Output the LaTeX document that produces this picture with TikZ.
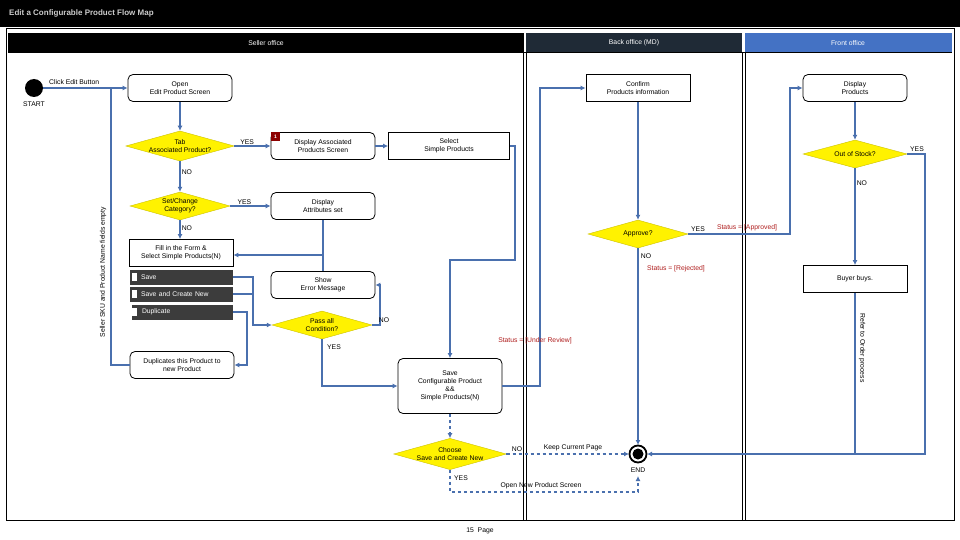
\documentclass[tikz,border=0pt]{standalone}
\usepackage{fontspec}
\setmainfont{Liberation Sans}
\usetikzlibrary{shapes.geometric,arrows.meta}
\definecolor{ln}{HTML}{4A70AE}
\definecolor{dia}{HTML}{FFF200}
\definecolor{st}{HTML}{B01E1E}
\definecolor{btn}{HTML}{3C3C3C}
\definecolor{bo}{HTML}{1F2A36}
\definecolor{fo}{HTML}{4472C4}
\tikzset{
 x=1pt,y=-1pt,
 every node/.style={font=\fontsize{6.8}{7.8}\selectfont,align=center,inner sep=1pt},
 rbox/.style={draw,rounded corners=5pt,thick,minimum width=104pt,minimum height=27pt},
 sbox/.style={draw,thick,minimum width=104pt,minimum height=27pt},
 dbox/.style={draw=white,fill=btn,text=white,minimum width=104pt,minimum height=16pt,align=left,text width=80pt},
 dec/.style={diamond,draw=dia!80!black,fill=dia,aspect=3.6,minimum width=100pt,minimum height=28pt,inner sep=0pt},
 ar/.style={draw=ln,line width=1.6pt,-{Latex[length=5pt,width=5pt]}},
 ln/.style={draw=ln,line width=1.6pt},
 da/.style={ar,dashed},
 lbl/.style={font=\fontsize{6.8}{7.8}\selectfont},
 red/.style={text=st,font=\fontsize{6.8}{7.8}\selectfont},
}
\begin{document}
\begin{tikzpicture}
\useasboundingbox (0,0) rectangle (960,540);
\fill[white] (0,0) rectangle (960,540);
% title
\fill[black] (0,0) rectangle (960,27);
\node[text=gray!40,font=\bfseries\fontsize{8}{9}\selectfont,anchor=west] (title) at (8,13) {Edit a Configurable Product Flow Map};
\draw[thick] (6,28) rectangle (954,520);
% lanes
\fill[red] (8,33) rectangle (524,52);
\fill[bo] (526,33) rectangle (742,52);
\fill[fo] (745,33) rectangle (952,52);
\node[text=white] (l1) at (266,43) {Seller office};
\node[text=white] (l2) at (634,43) {Back office (MD)};
\node[text=white] (l3) at (848,43) {Front office};
\draw (8,52) -- (952,52);
\draw (523,52) -- (523,520); \draw (526,52) -- (526,520);
\draw (742,52) -- (742,520); \draw (745,52) -- (745,520);
\node (page) at (480,531) {15\ \ Page};
% nodes
\fill (34,88) circle (9); \coordinate (start) at (43,88);
\node (startl) at (34,104) {START};
\node[rbox] (open) at (180,88) {Open\\Edit Product Screen};
\node[dec] (tab) at (180,146) {Tab\\Associated Product?};
\node[rbox] (dap) at (323,146) {Display Associated\\Products Screen};
\fill[red!55!black] (271,132) rectangle (280,141);
\node[text=white,font=\bfseries\fontsize{5}{6}\selectfont] (b1) at (275.5,136.5) {1};
\node[sbox,minimum width=121pt] (sel) at (449,146) {Select\\Simple Products};
\node[dec] (cat) at (180,206) {Set/Change\\Category?};
\node[rbox] (attr) at (323,206) {Display\\Attributes set};
\node[sbox] (fill) at (181,253) {Fill in the Form \&\\Select Simple Products(N)};
\node[dbox] (bsave) at (181,277) {Save};
\node[dbox] (bsn) at (181,294) {Save and Create New};
\node[dbox,minimum width=102pt] (bdup) at (182,312) {Duplicate};
\foreach \y in {277,294,312} \fill[white] (132,\y-4) rectangle (137,\y+4);
\node[rbox] (err) at (323,285) {Show\\Error Message};
\node[dec] (pass) at (322,325) {Pass all\\Condition?};
\node[rbox] (dup) at (182,365) {Duplicates this Product to\\new Product};
\node[rbox,minimum height=55pt] (save) at (450,386) {Save\\Configurable Product\\\&\&\\Simple Products(N)};
\node[dec,minimum width=104pt] (ch) at (450,454) {Choose\\Save and Create New};
\draw[line width=1.8pt] (638,454) circle (8.5); \fill (638,454) circle (5.5);
\coordinate (endc) at (638,454);
\node (endl) at (638,470) {END};
\node[sbox] (conf) at (638,88) {Confirm\\Products information};
\node[dec] (appr) at (638,234) {Approve?};
\node[rbox] (disp) at (855,88) {Display\\Products};
\node[dec,minimum width=104pt] (oos) at (855,154) {Out of Stock?};
\node[sbox] (buy) at (855,279) {Buyer buys.};
% connectors
\draw[ar] (start) -- (open.west);
\node[anchor=south west] (cl) at (48,86) {Click Edit Button};
\draw[ar] (open) -- (tab);
\draw[ar] (tab) -- (dap) node[pos=0.35,above,lbl] {YES};
\draw[ar] (dap) -- (sel);
\draw[ar] (tab) -- (cat) node[pos=0.35,right,lbl] {NO};
\draw[ar] (cat) -- (attr) node[pos=0.35,above,lbl] {YES};
\draw[ar] (cat) -- (cat|-fill.north) node[pos=0.4,right,lbl] {NO};
\draw[ln] (attr.south) -- (323,255);
\draw[ar] (err.north) -- (323,255) -- (fill.east|-0,255);
\draw[ln] (sel.east) -- (515,146) -- (515,260) -- (450,260);
\draw[ar] (450,259) -- (save.north);
\draw[ar] (bsave.east) -- (253,277) -- (253,325) -- (pass.west);
\draw[ln] (bsn.east) -- (253,294);
\draw[ar] (bdup.east) -- (247,312) -- (247,365) -- (dup.east);
\draw[ar] (pass.east) -- (380,325) -- (380,285) -- (err.east);
\node[lbl] (pno) at (384,320) {NO};
\draw[ar] (pass.south) -- (322,386) -- (save.west);
\node[lbl] (pyes) at (334,347) {YES};
\draw[ln] (dup.west) -- (111,365) -- (111,88);
\node[rotate=90] (sku) at (103,272) {Seller SKU and Product Name fields empty};
\draw[ar] (save.east) -- (540,386) -- (540,88) -- (conf.west);
\node[red] (ur) at (535,341) {Status = [Under Review]};
\draw[da] (save.south) -- (ch.north);
\draw[da] (ch.east) -- (629,454);
\node[lbl] (cno) at (517,449) {NO};
\node (kcp) at (573,448) {Keep Current Page};
\draw[da] (ch.south) -- (450,492) -- (638,492) -- (638,476);
\node[lbl] (cyes) at (461,478) {YES};
\node (onp) at (541,486) {Open New Product Screen};
\draw[ar] (conf) -- (appr);
\draw[ar] (appr.east) -- (790,234) -- (790,88) -- (disp.west);
\node[lbl] (ayes) at (698,229) {YES};
\node[red] (apr) at (747,228) {Status = [Approved]};
\draw[ar] (appr.south) -- (638,445);
\node[lbl] (ano) at (646,256) {NO};
\node[red] (rej) at (676,269) {Status = [Rejected]};
\draw[ar] (disp) -- (oos);
\draw[ar] (oos) -- (buy) node[pos=0.15,right,lbl] {NO};
\draw[ar] (oos.east) -- (925,154) -- (925,454) -- (647,454);
\node[lbl] (oyes) at (917,149) {YES};
\draw[ln] (buy.south) -- (855,454);
\node[rotate=-90] (ref) at (862,348) {Refer to Order process};
\end{tikzpicture}
\end{document}
